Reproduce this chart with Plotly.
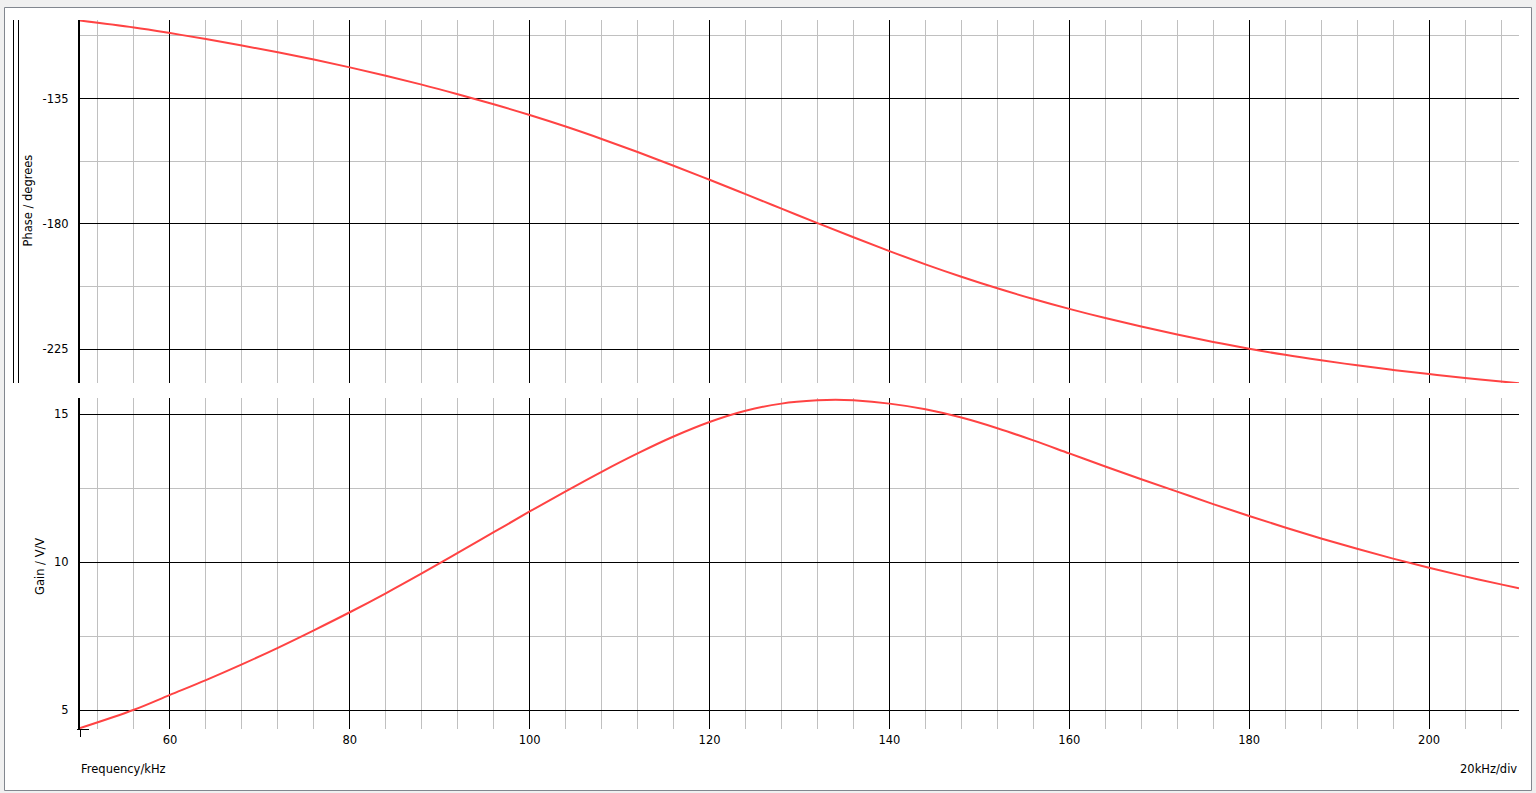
import plotly.graph_objects as go

# ---------------- data ----------------
phase_freq_khz = [50, 56, 60, 64, 68, 72, 76, 80, 84, 88, 92, 96, 100, 104, 108, 112,
                  116, 120, 124, 128, 132, 136, 140, 144, 148, 152, 156, 160, 164, 168,
                  172, 176, 180, 184, 188, 192, 196, 200, 204, 208, 210]
phase_deg = [-107.0, -109.5, -111.5, -113.65, -115.95, -118.4, -121.0, -123.8, -126.8,
             -130.0, -133.45, -137.05, -140.9, -145.05, -149.5, -154.2, -159.1, -164.15,
             -169.3, -174.5, -179.7, -184.8, -189.75, -194.5, -198.95, -203.1, -206.95,
             -210.5, -213.8, -216.85, -219.7, -222.35, -224.8, -227.0, -228.95, -230.75,
             -232.4, -233.9, -235.3, -236.6, -237.2]

gain_freq_khz = [50, 56, 60, 64, 68, 72, 76, 80, 84, 88, 92, 96, 100, 104, 108, 112,
                 116, 120, 124, 128, 132, 134, 136, 140, 144, 148, 152, 156, 160, 164,
                 168, 172, 176, 180, 184, 188, 192, 196, 200, 204, 208, 210]
gain_vv = [4.40, 5.02, 5.52, 6.02, 6.55, 7.11, 7.70, 8.31, 8.95, 9.62, 10.31, 11.01,
           11.71, 12.39, 13.05, 13.67, 14.24, 14.73, 15.11, 15.35, 15.46, 15.48, 15.46,
           15.35, 15.16, 14.88, 14.52, 14.11, 13.67, 13.23, 12.80, 12.38, 11.96, 11.56,
           11.17, 10.80, 10.45, 10.12, 9.81, 9.52, 9.25, 9.12]

x_range = [50, 210]
phase_range = [-237.1, -106.8]
gain_range = [4.37, 15.54]

phase_tick_vals = [-225, -180, -135]
phase_tick_text = ["-225", "-180", "-135"]

x_title = "Frequency/kHz"
x_scale_note = "20kHz/div"
phase_title = "Phase / degrees"
gain_title = "Gain / V/V"

# ---------------- layout helpers (pixel -> paper) ----------------
W, H = 1536, 793
def px(x):
    return x / W
def py(y):
    return 1 - y / H

FONT = "DejaVu Sans"
CURVE = "#ff4343"
MAJOR = "#000000"
MINOR = "#c0c0c0"

fig = go.Figure()
fig.add_trace(go.Scatter(x=phase_freq_khz, y=phase_deg, mode="lines",
                         line=dict(color=CURVE, width=2, shape="spline"),
                         xaxis="x", yaxis="y", showlegend=False, hoverinfo="skip"))
fig.add_trace(go.Scatter(x=gain_freq_khz, y=gain_vv, mode="lines",
                         line=dict(color=CURVE, width=2, shape="spline"),
                         xaxis="x2", yaxis="y2", showlegend=False, hoverinfo="skip"))

xdom = [px(80), px(1519)]

def xaxis(show_labels, anchor):
    return dict(domain=xdom, range=x_range, anchor=anchor,
                tick0=0, dtick=20, showgrid=True, gridcolor=MAJOR, gridwidth=1,
                minor=dict(tick0=0, dtick=4, showgrid=True, gridcolor=MINOR, gridwidth=1),
                zeroline=False, showline=False, ticks="",
                showticklabels=show_labels, ticklabelstandoff=2,
                tickfont=dict(family=FONT, size=11.5, color="black"))

def yaxis(dom, rng, dtick, minor_dtick, anchor):
    return dict(domain=dom, range=rng, anchor=anchor,
                tick0=0, dtick=dtick, showgrid=True, gridcolor=MAJOR, gridwidth=1,
                minor=dict(tick0=0, dtick=minor_dtick, showgrid=True, gridcolor=MINOR, gridwidth=1),
                zeroline=False, showline=True, linecolor="black", linewidth=2,
                ticks="", ticklabelstandoff=7,
                tickfont=dict(family=FONT, size=11.5, color="black"))

phase_y = yaxis([py(383), py(20)], phase_range, 45, 22.5, "x")
phase_y.update(tickmode="array", tickvals=phase_tick_vals, ticktext=phase_tick_text)

fig.update_layout(
    width=W, height=H,
    margin=dict(l=0, r=0, t=0, b=0, pad=0),
    paper_bgcolor="#f0f0f0",
    plot_bgcolor="white",
    font=dict(family=FONT, size=11.5, color="black"),
    xaxis=xaxis(False, "y"),
    yaxis=phase_y,
    xaxis2=xaxis(True, "y2"),
    yaxis2=yaxis([py(729), py(398)], gain_range, 5, 2.5, "x2"),
    shapes=[
        # white panel with grey frame
        dict(type="rect", xref="paper", yref="paper", x0=px(4.5), x1=px(1531.5),
             y0=py(790.5), y1=py(7.5), fillcolor="white",
             line=dict(color="#82878f", width=1), layer="below"),
        # double bar at far left of top panel
        dict(type="line", xref="paper", yref="paper", x0=px(13.5), x1=px(13.5),
             y0=py(383), y1=py(20), line=dict(color="black", width=1)),
        dict(type="line", xref="paper", yref="paper", x0=px(18.5), x1=px(18.5),
             y0=py(383), y1=py(20), line=dict(color="black", width=1)),
        # origin cross
        dict(type="line", xref="paper", yref="paper", x0=px(77), x1=px(89),
             y0=py(729.5), y1=py(729.5), line=dict(color="black", width=1)),
        dict(type="line", xref="paper", yref="paper", x0=px(80.5), x1=px(80.5),
             y0=py(729), y1=py(737), line=dict(color="black", width=1)),
    ],
    annotations=[
        dict(text=phase_title, xref="paper", yref="paper", x=px(27.5), y=py(201),
             xanchor="center", yanchor="middle", textangle=-90, showarrow=False,
             font=dict(family=FONT, size=11.5, color="black")),
        dict(text=gain_title, xref="paper", yref="paper", x=px(40), y=py(567),
             xanchor="center", yanchor="middle", textangle=-90, showarrow=False,
             font=dict(family=FONT, size=11.5, color="black")),
        dict(text=x_title, xref="paper", yref="paper", x=px(79), y=py(769),
             xanchor="left", yanchor="middle", showarrow=False,
             font=dict(family=FONT, size=11.5, color="black")),
        dict(text=x_scale_note, xref="paper", yref="paper", x=px(1519), y=py(769),
             xanchor="right", yanchor="middle", showarrow=False,
             font=dict(family=FONT, size=11.5, color="black")),
    ],
)

fig.write_html("out.html", config={"displayModeBar": False},
               post_script="document.body.style.margin='0';document.body.style.overflow='hidden';")
